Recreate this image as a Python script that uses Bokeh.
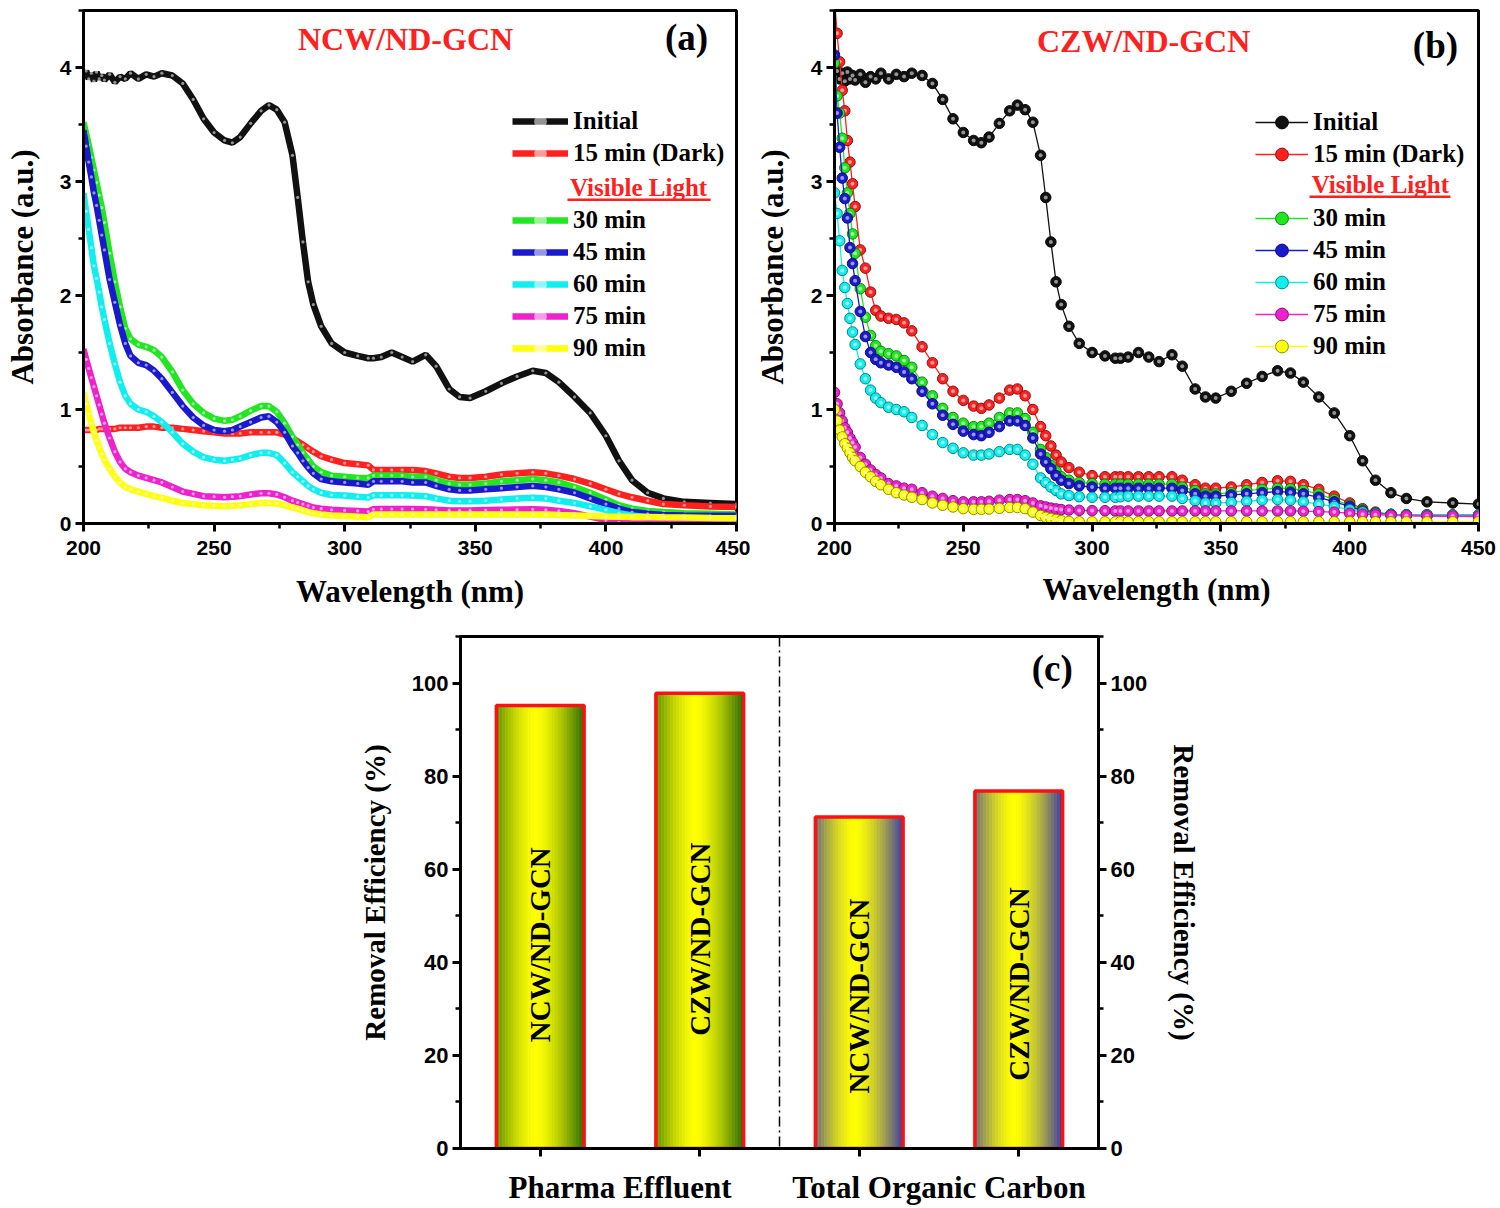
import numpy as np
from bokeh.plotting import figure
from bokeh.models import (Range1d, SingleIntervalTicker, FixedTicker, LinearAxis,
                          Legend, LegendItem, Label, Span, ColumnDataSource)
from bokeh.layouts import column, row
from bokeh.embed import file_html
from bokeh.resources import INLINE
from bokeh.core.properties import value

# ---------------- data ----------------
wavelength = [200, 201, 202, 203, 204, 205, 206, 207, 208, 210,
              212, 214, 216, 218, 221, 224, 227, 230, 234, 238,
              242, 246, 250, 254, 257, 260, 264, 268, 271, 274,
              277, 280, 282, 284, 286, 288, 291, 295, 300, 305,
              309, 311, 314, 318, 322, 326, 331, 335, 340, 344,
              348, 354, 360, 366, 372, 377, 382, 388, 394, 400,
              405, 410, 416, 422, 430, 440, 450]

initial = [3.92, 3.97, 3.90, 3.95, 3.88, 3.96, 3.90, 3.93, 3.89, 3.94,
           3.87, 3.92, 3.90, 3.95, 3.90, 3.94, 3.92, 3.95, 3.93, 3.86,
           3.72, 3.55, 3.43, 3.36, 3.34, 3.39, 3.51, 3.62, 3.67, 3.63,
           3.52, 3.23, 2.86, 2.47, 2.12, 1.92, 1.73, 1.58, 1.50, 1.47,
           1.45, 1.45, 1.46, 1.50, 1.46, 1.42, 1.48, 1.38, 1.18, 1.11,
           1.10, 1.16, 1.23, 1.29, 1.34, 1.32, 1.24, 1.11, 0.97, 0.77,
           0.55, 0.38, 0.27, 0.22, 0.19, 0.18, 0.17]

# panel (a) NCW/ND-GCN
a_dark15 = [0.82, 0.82, 0.82, 0.82, 0.82, 0.82, 0.83, 0.83, 0.83, 0.83,
            0.83, 0.84, 0.84, 0.84, 0.84, 0.85, 0.85, 0.84, 0.84, 0.83,
            0.82, 0.81, 0.80, 0.79, 0.79, 0.79, 0.80, 0.80, 0.80, 0.80,
            0.78, 0.75, 0.72, 0.69, 0.66, 0.63, 0.59, 0.56, 0.53, 0.52,
            0.51, 0.47, 0.47, 0.47, 0.47, 0.47, 0.46, 0.44, 0.41, 0.40,
            0.40, 0.41, 0.43, 0.44, 0.45, 0.44, 0.42, 0.39, 0.35, 0.30,
            0.26, 0.23, 0.20, 0.17, 0.16, 0.15, 0.145]
a_30 = [3.52, 3.42, 3.32, 3.21, 3.10, 2.99, 2.88, 2.77, 2.64, 2.37,
        2.12, 1.90, 1.71, 1.62, 1.57, 1.55, 1.52, 1.46, 1.33, 1.17,
        1.05, 0.97, 0.92, 0.90, 0.91, 0.94, 0.99, 1.03, 1.03, 0.98,
        0.88, 0.76, 0.69, 0.62, 0.56, 0.50, 0.45, 0.42, 0.41, 0.40,
        0.40, 0.42, 0.42, 0.42, 0.42, 0.41, 0.41, 0.38, 0.35, 0.34,
        0.34, 0.35, 0.37, 0.38, 0.39, 0.38, 0.36, 0.32, 0.27, 0.21,
        0.16, 0.13, 0.11, 0.10, 0.09, 0.085, 0.08]
a_45 = [3.45, 3.31, 3.17, 3.04, 2.90, 2.79, 2.66, 2.53, 2.40, 2.14,
        1.94, 1.74, 1.58, 1.47, 1.41, 1.39, 1.34, 1.27, 1.15, 1.03,
        0.93, 0.86, 0.82, 0.81, 0.82, 0.85, 0.89, 0.93, 0.94, 0.89,
        0.80, 0.68, 0.62, 0.55, 0.49, 0.44, 0.39, 0.37, 0.36, 0.35,
        0.34, 0.37, 0.37, 0.37, 0.37, 0.36, 0.36, 0.33, 0.30, 0.29,
        0.29, 0.30, 0.31, 0.32, 0.33, 0.32, 0.30, 0.27, 0.22, 0.17,
        0.13, 0.10, 0.085, 0.075, 0.07, 0.068, 0.067]
a_60 = [2.90, 2.74, 2.58, 2.42, 2.26, 2.15, 2.03, 1.90, 1.79, 1.58,
        1.40, 1.24, 1.12, 1.05, 1.00, 0.98, 0.94, 0.89, 0.80, 0.70,
        0.63, 0.58, 0.56, 0.55, 0.56, 0.57, 0.60, 0.62, 0.62, 0.60,
        0.53, 0.45, 0.41, 0.37, 0.33, 0.30, 0.27, 0.25, 0.245, 0.235,
        0.228, 0.247, 0.247, 0.247, 0.247, 0.245, 0.24, 0.22, 0.20, 0.195,
        0.195, 0.20, 0.21, 0.22, 0.225, 0.22, 0.20, 0.18, 0.15, 0.12,
        0.09, 0.07, 0.055, 0.048, 0.043, 0.04, 0.038]
a_75 = [1.53, 1.44, 1.36, 1.28, 1.20, 1.12, 1.04, 0.96, 0.88, 0.75,
        0.63, 0.54, 0.48, 0.45, 0.42, 0.40, 0.38, 0.36, 0.32, 0.28,
        0.26, 0.24, 0.235, 0.23, 0.235, 0.24, 0.255, 0.265, 0.265, 0.255,
        0.23, 0.20, 0.185, 0.17, 0.155, 0.14, 0.13, 0.12, 0.115, 0.11,
        0.105, 0.125, 0.127, 0.127, 0.127, 0.127, 0.125, 0.12, 0.115, 0.115,
        0.115, 0.118, 0.12, 0.122, 0.124, 0.12, 0.11, 0.09, 0.06, 0.03,
        0.01, 0.0, 0.0, 0.0, 0.0, 0.0, 0.0]
a_90 = [1.15, 1.05, 0.96, 0.88, 0.80, 0.73, 0.67, 0.61, 0.56, 0.48,
        0.41, 0.36, 0.32, 0.30, 0.28, 0.26, 0.24, 0.225, 0.20, 0.18,
        0.17, 0.16, 0.155, 0.152, 0.155, 0.16, 0.17, 0.18, 0.18, 0.175,
        0.16, 0.14, 0.13, 0.115, 0.10, 0.09, 0.08, 0.07, 0.066, 0.06,
        0.055, 0.08, 0.08, 0.08, 0.08, 0.08, 0.08, 0.08, 0.08, 0.08,
        0.08, 0.08, 0.08, 0.08, 0.08, 0.078, 0.074, 0.07, 0.066, 0.062,
        0.06, 0.058, 0.056, 0.054, 0.052, 0.049, 0.047]

# panel (b) CZW/ND-GCN
b_dark15 = [4.60, 4.30, 4.05, 3.80, 3.62, 3.36, 3.17, 2.98, 2.78, 2.40,
            2.24, 2.03, 1.87, 1.82, 1.80, 1.79, 1.76, 1.69, 1.55, 1.41,
            1.27, 1.16, 1.08, 1.03, 1.01, 1.04, 1.10, 1.17, 1.18, 1.12,
            1.00, 0.85, 0.77, 0.68, 0.60, 0.54, 0.49, 0.45, 0.42, 0.41,
            0.41, 0.41, 0.41, 0.41, 0.41, 0.41, 0.41, 0.38, 0.34, 0.31,
            0.31, 0.32, 0.34, 0.36, 0.375, 0.37, 0.34, 0.30, 0.24, 0.18,
            0.13, 0.10, 0.08, 0.07, 0.065, 0.062, 0.06]
b_30 = [4.04, 3.75, 3.60, 3.38, 3.12, 2.90, 2.72, 2.54, 2.37, 2.06,
        1.81, 1.65, 1.56, 1.51, 1.49, 1.47, 1.43, 1.37, 1.24, 1.12,
        1.01, 0.93, 0.88, 0.85, 0.85, 0.88, 0.93, 0.97, 0.97, 0.92,
        0.80, 0.65, 0.58, 0.51, 0.46, 0.41, 0.38, 0.36, 0.35, 0.345,
        0.345, 0.345, 0.345, 0.345, 0.345, 0.345, 0.345, 0.32, 0.29, 0.26,
        0.26, 0.27, 0.29, 0.30, 0.31, 0.305, 0.29, 0.26, 0.21, 0.16,
        0.12, 0.09, 0.08, 0.077, 0.076, 0.075, 0.075]
b_45 = [4.11, 3.60, 3.30, 3.03, 2.85, 2.68, 2.42, 2.28, 2.13, 1.86,
        1.64, 1.50, 1.44, 1.41, 1.39, 1.37, 1.33, 1.27, 1.16, 1.05,
        0.95, 0.87, 0.81, 0.78, 0.77, 0.80, 0.85, 0.90, 0.90, 0.86,
        0.75, 0.61, 0.54, 0.48, 0.42, 0.38, 0.35, 0.33, 0.32, 0.31,
        0.31, 0.31, 0.31, 0.31, 0.31, 0.31, 0.31, 0.29, 0.26, 0.24,
        0.24, 0.25, 0.26, 0.27, 0.28, 0.275, 0.26, 0.23, 0.19, 0.15,
        0.11, 0.09, 0.08, 0.077, 0.076, 0.075, 0.075]
b_60 = [2.90, 2.72, 2.48, 2.22, 2.07, 1.93, 1.80, 1.68, 1.57, 1.40,
        1.27, 1.17, 1.10, 1.06, 1.02, 1.00, 0.98, 0.93, 0.86, 0.78,
        0.71, 0.66, 0.62, 0.60, 0.60, 0.61, 0.63, 0.65, 0.65, 0.60,
        0.52, 0.40, 0.36, 0.32, 0.29, 0.26, 0.245, 0.235, 0.23, 0.23,
        0.23, 0.235, 0.24, 0.24, 0.24, 0.24, 0.24, 0.22, 0.20, 0.18,
        0.18, 0.185, 0.195, 0.205, 0.21, 0.205, 0.19, 0.17, 0.15, 0.12,
        0.10, 0.085, 0.078, 0.076, 0.075, 0.075, 0.075]
b_75 = [1.15, 1.05, 0.97, 0.90, 0.84, 0.80, 0.75, 0.71, 0.67, 0.58,
        0.52, 0.47, 0.43, 0.40, 0.35, 0.33, 0.31, 0.30, 0.27, 0.24,
        0.22, 0.20, 0.19, 0.19, 0.19, 0.195, 0.205, 0.21, 0.21, 0.20,
        0.18, 0.155, 0.145, 0.135, 0.128, 0.122, 0.118, 0.115, 0.113, 0.112,
        0.11, 0.11, 0.11, 0.11, 0.11, 0.11, 0.11, 0.11, 0.11, 0.11,
        0.11, 0.11, 0.11, 0.11, 0.11, 0.11, 0.108, 0.104, 0.10, 0.09,
        0.082, 0.077, 0.072, 0.07, 0.067, 0.066, 0.065]
b_90 = [1.00, 0.90, 0.82, 0.76, 0.70, 0.66, 0.62, 0.58, 0.55, 0.50,
        0.45, 0.41, 0.37, 0.34, 0.30, 0.27, 0.25, 0.23, 0.21, 0.18,
        0.16, 0.145, 0.13, 0.125, 0.125, 0.127, 0.133, 0.14, 0.14, 0.13,
        0.10, 0.07, 0.055, 0.045, 0.035, 0.025, 0.018, 0.015, 0.015, 0.015,
        0.015, 0.015, 0.015, 0.015, 0.015, 0.015, 0.015, 0.015, 0.015, 0.015,
        0.015, 0.015, 0.015, 0.015, 0.015, 0.015, 0.015, 0.015, 0.015, 0.015,
        0.015, 0.015, 0.015, 0.015, 0.015, 0.015, 0.015]

series_labels = ["Initial", "15 min (Dark)", "30 min", "45 min", "60 min", "75 min", "90 min"]
series_colors = ["#111111", "#ff2020", "#22e622", "#1a1acc", "#12eeee", "#ee22cc", "#ffff10"]

# panel (c)
bar_pos = [1, 2, 3, 4]
bar_values = [95.2, 97.8, 71.2, 76.8]
bar_labels = ["NCW/ND-GCN", "CZW/ND-GCN", "NCW/ND-GCN", "CZW/ND-GCN"]
bar_edge_rgb = [(40, 105, 0), (40, 105, 0), (55, 55, 165), (55, 55, 165)]
group_pos = [1.5, 3.5]
group_names = ["Pharma Effluent", "Total Organic Carbon"]

SERIF = "Liberation Serif"
SANS = "Liberation Sans"


def mix(hexcol, other, t):
    h = hexcol.lstrip("#")
    c = [int(h[i:i + 2], 16) for i in (0, 2, 4)]
    return "#%02x%02x%02x" % tuple(int(round(c[k] * (1 - t) + other[k] * t)) for k in range(3))


def style_axis(ax, label_size="21px", axis_label_size="31px"):
    ax.axis_line_width = 3
    ax.axis_line_color = "black"
    ax.major_tick_line_width = 3
    ax.minor_tick_line_width = 2.5
    ax.major_tick_out = 8
    ax.major_tick_in = 0
    ax.minor_tick_out = 5
    ax.minor_tick_in = 0
    ax.major_label_text_font = SANS
    ax.major_label_text_font_style = "bold"
    ax.major_label_text_font_size = label_size
    ax.major_label_text_color = "black"
    ax.axis_label_text_font = SERIF
    ax.axis_label_text_font_style = "bold"
    ax.axis_label_text_font_size = axis_label_size
    ax.axis_label_text_color = "black"


def spec_fig(width, height, bl, br, bt, bb, ymax, xstand, ystand):
    p = figure(width=width, height=height, x_range=Range1d(200, 450), y_range=Range1d(0, ymax),
               output_backend="svg", toolbar_location=None,
               min_border_left=bl, min_border_right=br, min_border_top=bt, min_border_bottom=bb)
    p.xgrid.visible = False
    p.ygrid.visible = False
    p.outline_line_color = "black"
    p.outline_line_width = 3
    p.outline_line_alpha = 1
    p.xaxis.ticker = SingleIntervalTicker(interval=50, num_minor_ticks=2)
    p.yaxis.ticker = SingleIntervalTicker(interval=1, num_minor_ticks=2)
    style_axis(p.xaxis[0])
    style_axis(p.yaxis[0])
    p.xaxis.major_label_standoff = 9
    p.yaxis.major_label_standoff = 4
    p.xaxis.axis_label = "Wavelength (nm)"
    p.yaxis.axis_label = "Absorbance (a.u.)"
    p.xaxis.axis_label_standoff = xstand
    p.yaxis.axis_label_standoff = ystand
    return p


def add_legends(p, items, x, y_top_bottom, y_bot_bottom, gw):
    common = dict(orientation="vertical", glyph_width=gw, glyph_height=32, label_height=32,
                  label_standoff=5, spacing=0, padding=0, margin=0,
                  border_line_alpha=0, background_fill_alpha=0,
                  label_text_font=SERIF, label_text_font_style="bold",
                  label_text_font_size="25px", label_text_color="black")
    lg1 = Legend(items=items[:2], location=(x, y_top_bottom), **common)
    lg2 = Legend(items=items[2:], location=(x, y_bot_bottom), **common)
    p.add_layout(lg1)
    p.add_layout(lg2)


# ---------------- panel (a) ----------------
pa = spec_fig(750, 615, 83, 14, 7, 92, 4.5, 16, 17)
a_series = [initial, a_dark15, a_30, a_45, a_60, a_75, a_90]
items_a = []
for lab, col, ys in zip(series_labels, series_colors, a_series):
    src = ColumnDataSource(dict(x=wavelength, y=ys))
    l = pa.line("x", "y", source=src, line_color=col, line_width=6.5)
    s = pa.scatter("x", "y", source=src, size=3.2, fill_color="white", fill_alpha=0.55, line_alpha=0)
    items_a.append(LegendItem(label=lab, renderers=[l, s]))
add_legends(pa, items_a, 429, 354, 159, 56)

pa.add_layout(Label(x=323.3, y=4.25, text="NCW/ND-GCN", text_align="center", text_baseline="middle",
                    text_font=SERIF, text_font_style="bold", text_font_size="32px", text_color="#ff2020"))
pa.add_layout(Label(x=430.9, y=4.265, text="(a)", text_align="center", text_baseline="middle",
                    text_font=SERIF, text_font_style="bold", text_font_size="37px", text_color="black"))
pa.add_layout(Label(x=412.5, y=2.95, text="Visible Light", text_align="center", text_baseline="middle",
                    text_font=SERIF, text_font_style="bold", text_font_size="25px", text_color="#ff2020"))
pa.segment(x0=[385.3], y0=[2.84], x1=[440.1], y1=[2.84], line_color="#ff2020", line_width=2.5)

# ---------------- panel (b) ----------------
pb = spec_fig(750, 615, 84, 22, 10, 89, 4.5, 14, 18)
b_series = [initial, b_dark15, b_30, b_45, b_60, b_75, b_90]
items_b = []
for lab, col, ys in zip(series_labels, series_colors, b_series):
    src = ColumnDataSource(dict(x=wavelength, y=ys))
    l = pb.line("x", "y", source=src, line_color=col, line_width=1.3)
    s = pb.scatter("x", "y", source=src, size=10.5, fill_color=col,
                   line_color=mix(col, (0, 0, 0), 0.45), line_width=1)
    pb.scatter("x", "y", source=src, size=4, fill_color=mix(col, (255, 255, 255), 0.55), line_alpha=0)
    items_b.append(LegendItem(label=lab, renderers=[l, s]))
add_legends(pb, items_b, 421, 353, 161, 53)

pb.add_layout(Label(x=320.0, y=4.23, text="CZW/ND-GCN", text_align="center", text_baseline="middle",
                    text_font=SERIF, text_font_style="bold", text_font_size="32px", text_color="#ff2020"))
pb.add_layout(Label(x=433.3, y=4.19, text="(b)", text_align="center", text_baseline="middle",
                    text_font=SERIF, text_font_style="bold", text_font_size="37px", text_color="black"))
pb.add_layout(Label(x=411.9, y=2.97, text="Visible Light", text_align="center", text_baseline="middle",
                    text_font=SERIF, text_font_style="bold", text_font_size="25px", text_color="#ff2020"))
pb.segment(x0=[384.4], y0=[2.867], x1=[439.1], y1=[2.867], line_color="#ff2020", line_width=2.5)

# ---------------- panel (c) ----------------
pc = figure(width=1500, height=593, x_range=Range1d(0.5, 4.5), y_range=Range1d(0, 110),
            output_backend="svg", toolbar_location=None,
            min_border_left=460, min_border_right=402, min_border_top=21, min_border_bottom=60)
pc.xgrid.visible = False
pc.ygrid.visible = False
pc.outline_line_color = "black"
pc.outline_line_width = 3

bw = 0.55
N = 30
yellow = (255, 255, 0)
lefts, rights, tops, cols = [], [], [], []
for pos, v, edge in zip(bar_pos, bar_values, bar_edge_rgb):
    for i in range(N):
        s0, s1 = i / N, (i + 1) / N
        d = abs((s0 + s1) / 2 - 0.45) / 0.55
        w = d ** 1.5
        rgb = tuple(int(round(yellow[k] * (1 - w) + edge[k] * w)) for k in range(3))
        lefts.append(pos - bw / 2 + s0 * bw)
        rights.append(pos - bw / 2 + s1 * bw)
        tops.append(v)
        cols.append("#%02x%02x%02x" % rgb)
pc.quad(left=lefts, right=rights, bottom=0, top=tops, fill_color=cols, line_color=cols, line_width=0.6)
pc.vbar(x=bar_pos, width=bw, top=bar_values, bottom=0, fill_alpha=0, line_color="#ff1010", line_width=3.5)
pc.text(x=bar_pos, y=[v * 0.46 for v in bar_values], text=bar_labels, angle=np.pi / 2,
        text_align="center", text_baseline="middle", text_font=value(SERIF),
        text_font_style="bold", text_font_size="29px", text_color="black")
pc.add_layout(Span(location=2.5, dimension="height", line_color="black", line_width=1.5,
                   line_dash="10 4 2 4"))
pc.add_layout(Label(x=4.21, y=103.1, text="(c)", text_align="center", text_baseline="middle",
                    text_font=SERIF, text_font_style="bold", text_font_size="37px", text_color="black"))

pc.xaxis.ticker = FixedTicker(ticks=group_pos, minor_ticks=bar_pos)
pc.xaxis.major_label_overrides = dict(zip(group_pos, group_names))
style_axis(pc.xaxis[0], label_size="31px")
pc.xaxis.major_label_text_font = SERIF
pc.xaxis.major_tick_out = 0
pc.xaxis.minor_tick_out = 8
pc.xaxis.minor_tick_line_width = 3
pc.xaxis.major_label_standoff = 13

pc.yaxis.ticker = SingleIntervalTicker(interval=20, num_minor_ticks=2)
style_axis(pc.yaxis[0], label_size="22px", axis_label_size="29px")
pc.yaxis.axis_label = "Removal Efficiency (%)"
pc.yaxis.major_label_standoff = 4
pc.yaxis.axis_label_standoff = 18

ax_r = LinearAxis(ticker=SingleIntervalTicker(interval=20, num_minor_ticks=2),
                  axis_label="Removal Efficiency (%)")
style_axis(ax_r, label_size="22px", axis_label_size="29px")
ax_r.major_label_standoff = 4
ax_r.axis_label_standoff = 18
pc.add_layout(ax_r, "right")

layout = column(row(pa, pb), pc)
open("out.html", "w").write(file_html(layout, INLINE))
